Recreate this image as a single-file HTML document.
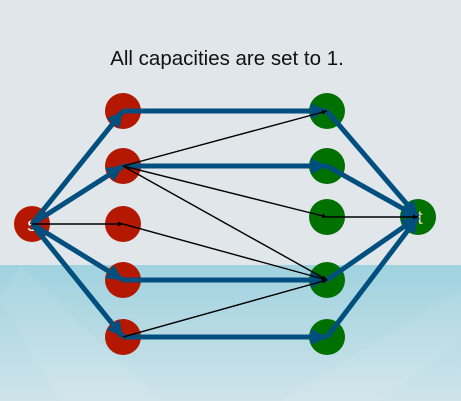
<!DOCTYPE html>
<html><head><style>
html,body{margin:0;padding:0;}
body{width:461px;height:401px;overflow:hidden;position:relative;font-family:"Liberation Sans",sans-serif;}
</style></head><body>
<svg width="461" height="401" xmlns="http://www.w3.org/2000/svg" style="position:absolute;left:0;top:0">
<defs>
<linearGradient id="bg2" x1="0" y1="0" x2="0" y2="1">
<stop offset="0" stop-color="#9fd2df"/><stop offset="1" stop-color="#cfe4ea"/>
</linearGradient>
<marker id="ab" viewBox="0 0 10 10" refX="10" refY="5" markerWidth="3.2" markerHeight="3.2" orient="auto" markerUnits="strokeWidth"><path d="M0,0 L10,5 L0,10 z" fill="#004f7f"/></marker>
<marker id="ak" viewBox="0 0 10 10" refX="10" refY="5" markerWidth="4.5" markerHeight="3.5" orient="auto" markerUnits="strokeWidth"><path d="M0,0 L10,5 L0,10 z" fill="#000"/></marker>
</defs>
<rect x="0" y="0" width="461" height="265" fill="#e0e6e9"/>
<rect x="0" y="265" width="461" height="136" fill="url(#bg2)"/>
<polygon points="20,265 160,401 60,401 0,300" fill="#ffffff" opacity="0.07"/>
<polygon points="461,290 280,401 380,401 461,340" fill="#ffffff" opacity="0.07"/>
<text x="227" y="65" text-anchor="middle" font-size="20.5" fill="#111">All capacities are set to 1.</text>
<g fill="#b41800">
<circle cx="32" cy="224" r="18"/>
<circle cx="123" cy="111" r="18"/><circle cx="123" cy="166" r="18"/><circle cx="123" cy="224" r="18"/><circle cx="123" cy="280" r="18"/><circle cx="123" cy="337" r="18"/>
</g>
<g fill="#007000">
<circle cx="327" cy="111" r="18"/><circle cx="327" cy="166" r="18"/><circle cx="327" cy="217" r="18"/><circle cx="327" cy="280" r="18"/><circle cx="327" cy="337" r="18"/>
<circle cx="418" cy="217" r="18"/>
</g>
<text x="32" y="231" text-anchor="middle" font-size="19" fill="#fff">s</text>
<text x="420" y="224" text-anchor="middle" font-size="19" fill="#f0e0a0">t</text>
<g stroke="#004f7f" stroke-width="5" fill="none" marker-end="url(#ab)">
<line x1="32" y1="224" x2="123" y2="111"/><line x1="32" y1="224" x2="123" y2="166"/>
<line x1="32" y1="224" x2="123" y2="280"/><line x1="32" y1="224" x2="123" y2="337"/>
<line x1="123" y1="111" x2="327" y2="111"/><line x1="123" y1="166" x2="327" y2="166"/>
<line x1="123" y1="280" x2="327" y2="280"/><line x1="123" y1="337" x2="327" y2="337"/>
<line x1="327" y1="111" x2="418" y2="217"/><line x1="327" y1="166" x2="418" y2="217"/>
<line x1="327" y1="280" x2="418" y2="217"/><line x1="327" y1="337" x2="418" y2="217"/>
</g>
<g stroke="#000" stroke-width="1.4" fill="none" marker-end="url(#ak)">
<line x1="32" y1="224" x2="123" y2="224"/>
<line x1="123" y1="224" x2="327" y2="280"/>
<line x1="123" y1="166" x2="327" y2="111"/>
<line x1="123" y1="166" x2="327" y2="217"/>
<line x1="123" y1="166" x2="327" y2="280"/>
<line x1="123" y1="337" x2="327" y2="280"/>
<line x1="327" y1="217" x2="418" y2="217"/>
</g>
</svg>
</body></html>
